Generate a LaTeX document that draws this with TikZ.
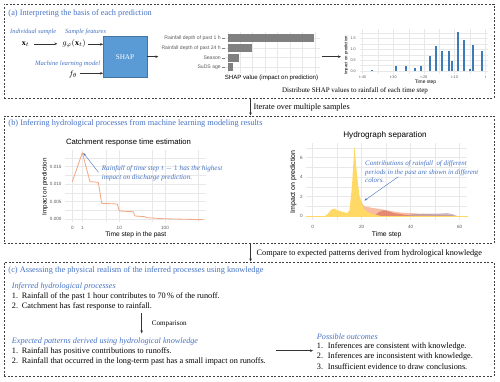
\documentclass[tikz,border=0pt]{standalone}
\usepackage{fontspec}
\setmainfont{Liberation Serif}
\newfontfamily\plotfont{Liberation Sans}
\usetikzlibrary{arrows.meta}
\definecolor{myblue}{RGB}{68,114,196}
\definecolor{shapblue}{RGB}{91,155,213}
\definecolor{barblue}{RGB}{61,122,184}
\definecolor{gridc}{RGB}{232,232,232}
\definecolor{salmonc}{RGB}{244,165,130}
\definecolor{redc}{RGB}{214,96,77}
\definecolor{tailc}{RGB}{160,140,160}
\definecolor{yellowc}{RGB}{255,217,102}
\definecolor{bargrey}{RGB}{128,128,128}
\tikzset{
 panelbox/.style={draw=black!75, dash pattern=on 2pt off 1.6pt, line width=0.55pt, minimum width=489.5pt, anchor=north west, inner sep=0},
 ptitle/.style={text=myblue, font=\fontsize{8.3}{10}\selectfont, anchor=west, inner sep=0},
 itb/.style={text=myblue, font=\fontsize{8.2}{10}\selectfont\itshape, anchor=west, inner sep=0},
 itbs/.style={text=myblue, font=\fontsize{6.6}{8}\selectfont\itshape, anchor=west, inner sep=0},
 bodytxt/.style={font=\fontsize{8.25}{10}\selectfont, anchor=west, inner sep=0},
 mathtxt/.style={font=\fontsize{8}{9}\selectfont, inner sep=0},
 arr/.style={-{Stealth[length=3pt,width=2.6pt]}, line width=0.5pt, black!80},
 annot/.style={text=myblue, font=\fontsize{7.1}{9}\selectfont\itshape, anchor=west, inner sep=0, align=left},
 annarr/.style={-{Stealth[length=3pt,width=2.4pt]}, line width=0.4pt, myblue},
 gmajor/.style={draw=gridc, line width=0.7pt},
 gminor/.style={draw=gridc, line width=0.35pt},
 tickl/.style={font=\plotfont\fontsize{4.6}{5}\selectfont, text=black!65, inner sep=0},
 axtitle/.style={font=\plotfont\fontsize{6.5}{7}\selectfont, inner sep=0},
 plottitle/.style={font=\plotfont\fontsize{7.7}{9}\selectfont, inner sep=0},
}
\begin{document}
\begin{tikzpicture}[x=1pt,y=-1pt]
\useasboundingbox (0,0) rectangle (500,381);
% ---------------- panels
\node[panelbox, minimum height=94.2pt] (pa) at (4,3.5) {};
\node[panelbox, minimum height=127.8pt] (pb) at (4,115.5) {};
\node[panelbox, minimum height=114.5pt] (pc) at (4,261.5) {};
\node[ptitle] (ta) at (8.3,13.3) {(a) Interpreting the basis of each prediction};
\node[ptitle] (tb) at (8.3,123.3) {(b) Inferring hydrological processes from machine learning modeling results};
\node[ptitle] (tc) at (8.3,270) {(c) Assessing the physical realism of the inferred processes using knowledge};
% between panels
\draw[arr] ([xshift=1.5pt]pa.south) -- ([xshift=1.5pt]pb.north);
\node[bodytxt] (iter) at (253.5,108) {Iterate over multiple samples};
\draw[arr] ([xshift=1.5pt]pb.south) -- ([xshift=1.5pt]pc.north);
\node[bodytxt] (cmp) at (256.5,253.3) {Compare to expected patterns derived from hydrological knowledge};
% ---------------- panel (a)
\node[itbs, font=\fontsize{6.4}{8}\selectfont\itshape] (lis) at (10,32.3) {Individual sample};
\node[itbs, font=\fontsize{6.4}{8}\selectfont\itshape] (lsf) at (65,32.3) {Sample features};
\node[itbs] (lml) at (35,64) {Machine learning model};
\node[mathtxt] (xt) at (25.5,43.8) {$\mathbf{x}_t$};
\node[mathtxt] (g) at (74,43.8) {$g_\varphi(\mathbf{x}_t)$};
\node[mathtxt] (f) at (73,74) {$f_\theta$};
\node[draw=shapblue!75!black, fill=shapblue, minimum width=43.4pt, minimum height=41.3pt, text=white, font=\fontsize{7.2}{9}\selectfont, inner sep=0] (shap) at (125,56.7) {SHAP};
\draw[arr] (34.3,43.8) -- (57.3,43.8);
\draw[arr] (g.east) ++(2,0.5) -- (shap.west |- 0,44.3);
\draw[arr] (f.east) ++(3,-0.7) -- (shap.west |- 0,73.3);
\coordinate (barsL) at (158.3,56.7);
\draw[arr] (shap.east |- barsL) -- (barsL);
% bar chart (feature importance)
\foreach \k in {0,...,7} \draw[gminor] ({227.7+12.45*\k},31.7) -- ({227.7+12.45*\k},73.3);
\foreach \yy in {38.3,48,57.7,67.2} {\draw[gmajor] (225,\yy) -- (320,\yy); \draw[black!50,line width=0.3pt] (222,\yy) -- (224.5,\yy);}
\fill[bargrey] (227.7,34.3) rectangle (314,42.3);
\fill[bargrey] (227.7,44) rectangle (251.7,52.2);
\fill[bargrey] (227.7,53.7) rectangle (239.3,61.7);
\fill[bargrey] (227.7,63.3) rectangle (233.3,71);
\node[tickl, anchor=east, font=\plotfont\fontsize{5.1}{6}\selectfont] (f1) at (221,38.3) {Rainfall depth of past 1 h};
\node[tickl, anchor=east, font=\plotfont\fontsize{5.1}{6}\selectfont] (f2) at (221,48) {Rainfall depth of past 24 h};
\node[tickl, anchor=east, font=\plotfont\fontsize{5.1}{6}\selectfont] (f3) at (221,57.7) {Season};
\node[tickl, anchor=east, font=\plotfont\fontsize{5.1}{6}\selectfont] (f4) at (221,67.2) {SuDS age};
\node[axtitle, font=\plotfont\fontsize{6.1}{7}\selectfont] (shx) at (271.5,78.3) {SHAP value (impact on prediction)};
% time-step bar chart
\coordinate (tsL) at (341,56.7);
\draw[arr] (321.7,56.7) -- (tsL);
\foreach \s in {-40,-30,...,0} \draw[gmajor] ({485.3+3.065*\s},29) -- ({485.3+3.065*\s},73.5);
\foreach \s in {-35,-25,...,-5} \draw[gminor] ({485.3+3.065*\s},29) -- ({485.3+3.065*\s},73.5);
\foreach \v in {0,0.5,1,1.5} \draw[gmajor] (360,{71-21.5*\v}) -- (488,{71-21.5*\v});
\foreach \v in {0.25,0.75,1.25,1.75} \draw[gminor] (360,{71-21.5*\v}) -- (488,{71-21.5*\v});
\foreach \s/\v in {-37/0.03,-29/0.25,-26/0.25,-23/0.15,-21/0.25,-18/0.68,-16/1.15,-14/0.95,-12/0.92,-11/0.48,-9/1.8,-7/1.45,-5/0.07,-4/1.2,-1/0.92}
  \fill[barblue] ({485.3+3.065*\s-1},71) rectangle ({485.3+3.065*\s+1},{71-21.5*\v});
\node[tickl, anchor=east, font=\plotfont\fontsize{3.8}{4}\selectfont] (y15) at (356,38.7) {1.5};
\node[tickl, anchor=east, font=\plotfont\fontsize{3.8}{4}\selectfont] (y10) at (356,49.5) {1.0};
\node[tickl, anchor=east, font=\plotfont\fontsize{3.8}{4}\selectfont] (y05) at (356,60.3) {0.5};
\node[tickl, anchor=east, font=\plotfont\fontsize{3.8}{4}\selectfont] (y00) at (356,71) {0.0};
\foreach \s/\lab in {-40/t-40,-30/t-30,-20/t-20,-10/t-10,0/t}
  \node[tickl, font=\plotfont\fontsize{3.8}{4}\selectfont] at ({485.3+3.065*\s},77) {\lab};
\node[axtitle, font=\plotfont\fontsize{4.9}{5}\selectfont] (tsx) at (425.5,82.3) {Time step};
\node[axtitle, font=\plotfont\fontsize{4.3}{5}\selectfont, rotate=90] (tsy) at (346.3,55.5) {Impact on prediction};
\node[bodytxt, anchor=center, font=\fontsize{7}{9}\selectfont] (dist) at (355,90.7) {Distribute SHAP values to rainfall of each time step};
% ---------------- panel (b) left plot
\node[plottitle] (lt) at (128.5,142.8) {Catchment response time estimation};
\foreach \xx in {72.3,82.3,119.3,165} \draw[gmajor] (\xx,150) -- (\xx,222);
\foreach \xx in {106,151.7,198.3} \draw[gminor] (\xx,150) -- (\xx,222);
\foreach \yy in {166.7,184,201.7,219.3} \draw[gmajor] (65,\yy) -- (206,\yy);
\foreach \yy in {158,175.3,192.8,210.5} \draw[gminor] (65,\yy) -- (206,\yy);
\draw[salmonc, line width=0.8pt, line join=round] (72.3,181.7) -- (82.3,152.7) -- (90,181.7) -- (98.3,182.3) -- (101.7,203.3) -- (117.3,204) -- (119.3,211) -- (133.3,211.7) -- (135,216) -- (145,216.7) -- (146.7,217.7) -- (163.3,218.7) -- (203.3,219.7);
\node[tickl, anchor=east] (l15) at (61.7,166.7) {0.015};
\node[tickl, anchor=east] (l10) at (61.7,184) {0.010};
\node[tickl, anchor=east] (l05) at (61.7,201.7) {0.005};
\node[tickl, anchor=east] (l00) at (61.7,219.3) {0.000};
\foreach \xx/\lab in {72.3/0,82.3/1,119.3/10,165/100} \node[tickl] at (\xx,228.3) {\lab};
\node[axtitle, font=\plotfont\fontsize{6.6}{7}\selectfont] (lx) at (135.8,235) {Time step in the past};
\node[axtitle, font=\plotfont\fontsize{6.3}{7}\selectfont, rotate=90] (ly) at (45,186.7) {Impact on prediction};
\node[annot] (la) at (101.7,172.8) {Rainfall of time step $t-1$ has the highest\\impact on discharge prediction.};
\coordinate (peak) at (83.3,153);
\draw[annarr] (98.5,172.3) -- (peak);
% ---------------- panel (b) right plot
\node[plottitle, font=\plotfont\fontsize{8.2}{9}\selectfont] (rt) at (385,135) {Hydrograph separation};
\foreach \t in {0,20,40,60} \draw[gmajor] ({312.7+2.45*\t},143) -- ({312.7+2.45*\t},219.5);
\foreach \t in {10,30,50} \draw[gminor] ({312.7+2.45*\t},143) -- ({312.7+2.45*\t},219.5);
\foreach \v in {0,2,4,6} \draw[gmajor] (306,{216-9.7*\v}) -- (467,{216-9.7*\v});
\foreach \v in {1,3,5,7} \draw[gminor] (306,{216-9.7*\v}) -- (467,{216-9.7*\v});
\fill[salmonc, opacity=0.75] (355.6,216) -- (356.8,186.9) -- (359.3,198.5) -- (364.2,206.3) -- (371.5,207.8) -- (381.3,209.2) -- (391.1,211.2) -- (400.9,212.6) -- (410.7,213.1) -- (425.4,214.1) -- (440.1,214.5) -- (452.4,215) -- (454.8,216) -- cycle;
\fill[redc, opacity=0.55] (374,216) -- (378.9,212.1) -- (383.8,210.2) -- (388.7,211.2) -- (393.6,213.1) -- (403.3,214.5) -- (413.2,216) -- cycle;
\fill[tailc, opacity=0.55] (405.8,216) -- (413.2,214.1) -- (425.4,213.6) -- (437.6,213.6) -- (447.4,213.1) -- (452.4,214.1) -- (457.3,216) -- cycle;
\fill[yellowc] (306.1,216) -- (325,216) -- (327.4,214.1) -- (329.9,211.2) -- (332.3,209) -- (334.8,208.7) -- (337.2,210.2) -- (342.1,211.6) -- (347,213.1) -- (349.5,210.2) -- (351.9,186.9) -- (354.4,146.2) -- (356.8,172.4) -- (359.3,194.7) -- (361.7,203.4) -- (364.2,209.2) -- (369.1,213.1) -- (376.4,215) -- (381.3,216) -- cycle;
\draw[yellowc, line width=1pt] (306,216) -- (467.5,216);
\foreach \v/\lab in {0/0,2/2,4/4,6/6} \node[tickl, anchor=east] at (303,{216-9.7*\v}) {\lab};
\foreach \t in {0,20,40,60} \node[tickl] at ({312.7+2.45*\t},226.7) {\t};
\node[axtitle, font=\plotfont\fontsize{6.8}{7}\selectfont] (rx) at (386.7,235) {Time step};
\node[axtitle, font=\plotfont\fontsize{7}{7}\selectfont, rotate=90] (ry) at (293.3,182) {Impact on prediction};
\node[annot, font=\fontsize{6.9}{8.4}\selectfont\itshape] (ra) at (365,171.8) {Contributions of rainfall\ \ of different\\periods in the past are shown in different\\colors.};
\coordinate (spikeP) at (364.5,200.5);
\draw[annarr] (398.3,176.7) -- (spikeP);
% ---------------- panel (c)
\node[itb] (c1) at (11.7,286.7) {Inferred hydrological processes};
\node[bodytxt] (c1a) at (11.7,296.3) {\makebox[10pt][l]{1.}Rainfall of the past 1 hour contributes to 70\,\% of the runoff.};
\node[bodytxt] (c1b) at (11.7,306.5) {\makebox[10pt][l]{2.}Catchment has fast response to rainfall.};
\coordinate (cmpTop) at (141.7,313.3);
\coordinate (cmpBot) at (141.7,333.3);
\draw[arr] (cmpTop) -- (cmpBot);
\node[bodytxt, font=\fontsize{7.1}{8}\selectfont] (cmpl) at (151.7,324.3) {Comparison};
\node[itb] (c2) at (11.7,341.7) {Expected patterns derived using hydrological knowledge};
\node[bodytxt] (c2a) at (11.7,351.3) {\makebox[10pt][l]{1.}Rainfall has positive contributions to runoffs.};
\node[bodytxt] (c2b) at (11.7,361.3) {\makebox[10pt][l]{2.}Rainfall that occurred in the long-term past has a small impact on runoffs.};
\coordinate (outA) at (276,350.7);
\coordinate (outB) at (313,350.7);
\draw[arr] (outA) -- (outB);
\node[itb] (c3) at (316.7,336.7) {Possible outcomes};
\node[bodytxt] (c3a) at (316.7,346.3) {\makebox[11pt][l]{1.}Inferences are consistent with knowledge.};
\node[bodytxt] (c3b) at (316.7,356.3) {\makebox[11pt][l]{2.}Inferences are inconsistent with knowledge.};
\node[bodytxt] (c3c) at (316.7,366.3) {\makebox[11pt][l]{3.}Insufficient evidence to draw conclusions.};
\end{tikzpicture}
\end{document}
